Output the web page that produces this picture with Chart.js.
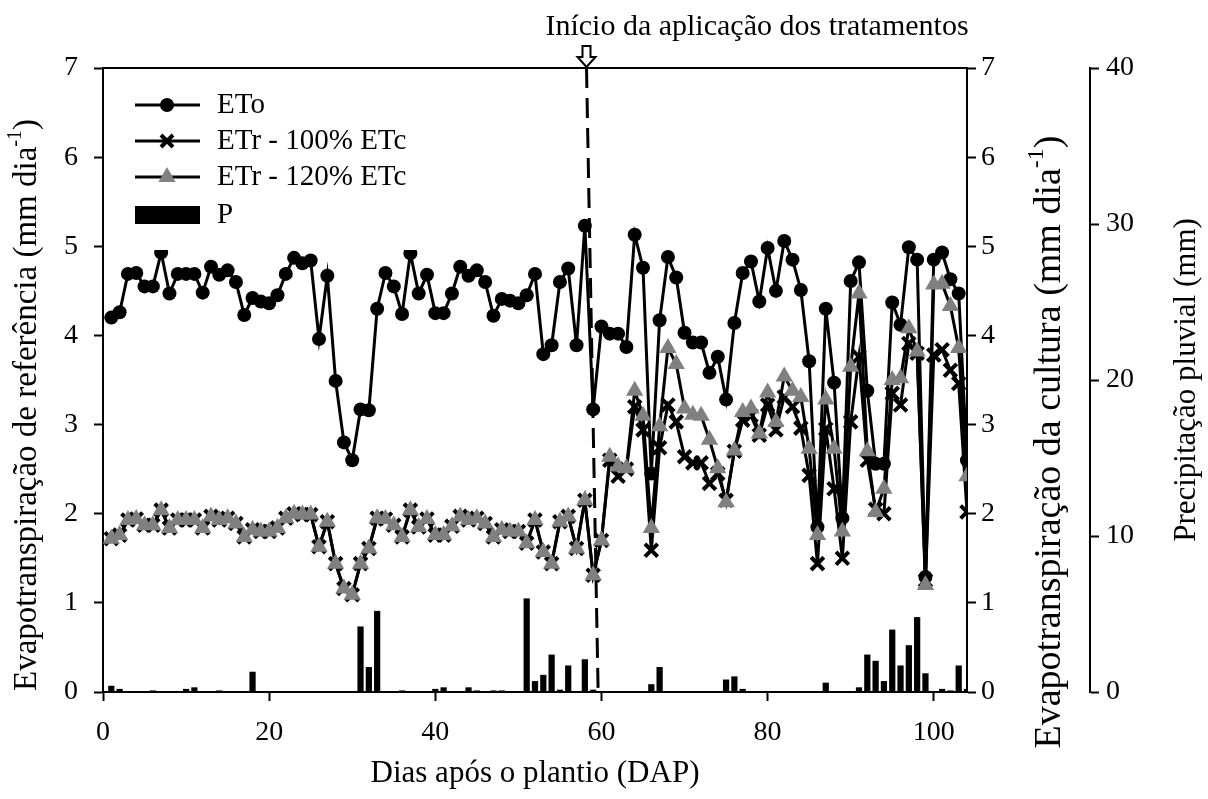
<!DOCTYPE html>
<html>
<head>
<meta charset="utf-8">
<script src="https://cdn.jsdelivr.net/npm/chart.js@4"></script>
<style>
body{margin:0;background:#fff;}
canvas{display:block;}
</style>
</head>
<body>
<canvas id="grafico" width="1208" height="799"></canvas>
<script>

// ================= DADOS =================

// dias após o plantio
let dias = [];
for(let d = 1; d <= 104; d++) dias.push(d);

// ETo (mm dia-1)
let eto = [
4.20,4.26,4.69,4.70,4.55,4.55,4.93,4.47,4.69,4.69,
4.69,4.48,4.77,4.68,4.73,4.60,4.23,4.42,4.38,4.36,
4.45,4.69,4.87,4.81,4.84,3.96,4.67,3.49,2.80,2.60,
3.17,3.16,4.30,4.70,4.55,4.24,4.92,4.47,4.68,4.25,
4.25,4.47,4.77,4.67,4.73,4.60,4.22,4.41,4.39,4.36,
4.45,4.69,3.79,3.89,4.60,4.75,3.89,5.23,3.17,4.10,
4.02,4.02,3.87,5.13,4.76,2.45,4.17,4.88,4.65,4.03,
3.92,3.92,3.58,3.76,3.28,4.14,4.70,4.83,4.38,4.98,
4.50,5.06,4.85,4.51,3.71,1.85,4.30,3.47,1.95,4.61,
4.82,3.38,2.56,2.56,4.37,4.12,4.99,4.85,1.29,4.85,
4.93,4.63,4.47,2.60
];

// ETr - 100% ETc
let etr100 = [
1.72,1.76,1.93,1.94,1.87,1.87,2.04,1.84,1.93,1.93,
1.93,1.84,1.97,1.93,1.95,1.89,1.74,1.82,1.80,1.80,
1.84,1.95,2.00,1.99,1.99,1.63,1.91,1.44,1.16,1.09,
1.44,1.61,1.95,1.94,1.87,1.74,2.04,1.85,1.94,1.76,
1.76,1.86,1.97,1.93,1.95,1.89,1.74,1.82,1.80,1.80,
1.67,1.93,1.57,1.44,1.91,1.97,1.61,2.15,1.31,1.70,
2.60,2.42,2.50,3.20,2.94,1.59,2.74,3.22,3.03,2.64,
2.57,2.57,2.34,2.45,2.15,2.70,3.05,3.10,2.88,3.22,
2.94,3.31,3.20,2.96,2.43,1.44,2.95,2.28,1.50,3.03,
3.76,2.60,2.05,2.00,3.35,3.22,3.91,3.80,1.25,3.78,
3.84,3.61,3.46,2.02
];

// ETr - 120% ETc
let etr120 = [
1.72,1.76,1.93,1.94,1.87,1.87,2.04,1.84,1.93,1.93,
1.93,1.84,1.97,1.93,1.95,1.89,1.74,1.82,1.80,1.80,
1.84,1.95,2.00,1.99,1.99,1.63,1.91,1.44,1.16,1.09,
1.44,1.61,1.95,1.94,1.87,1.74,2.04,1.85,1.94,1.76,
1.76,1.86,1.97,1.93,1.95,1.89,1.74,1.82,1.80,1.80,
1.67,1.93,1.57,1.44,1.91,1.97,1.61,2.15,1.31,1.70,
2.64,2.53,2.51,3.38,3.10,1.84,2.98,3.86,3.68,3.18,
3.11,3.10,2.83,2.51,2.13,2.71,3.14,3.18,2.90,3.36,
3.03,3.54,3.38,3.31,2.73,1.76,3.28,2.73,1.80,3.65,
4.47,2.70,2.02,2.28,3.50,3.52,4.08,3.82,1.20,4.57,
4.58,4.33,3.86,2.42
];

// precipitação pluvial (mm)
let chuva = [
0.4,0.2,0,0,0,0.1,0,0,0,0.2,
0.3,0,0,0.1,0,0,0,1.3,0,0,
0,0,0,0,0,0,0,0,0,0,
4.2,1.6,5.2,0,0,0.1,0,0,0,0.2,
0.3,0,0,0.3,0.1,0,0.1,0.1,0,0,
6.0,0.7,1.1,2.4,0.15,1.7,0,2.1,0.15,0,
0,0,0,0,0,0.5,1.6,0,0,0,
0,0,0,0,0.8,1.0,0.2,0,0,0,
0,0,0,0,0,0,0.6,0,0,0,
0.3,2.4,2.0,0.7,4.0,1.7,3.0,4.8,1.2,0,
0.2,0.1,1.7,0.2
];

// linha do início dos tratamentos (topo -> base)
let inicioX = [58.2, 59.6];
let inicioY = [7, 0];

let FONTE = '"Liberation Serif", "Times New Roman", serif';


// ================= FUNÇÕES =================

function pares(xs, ys){
return xs.map((x, i) => ({x: x, y: ys[i]}));
}

// texto vertical (de baixo para cima) com sobrescrito
function textoVertical(ctx, x, y, tam, partes){
ctx.save();
ctx.translate(x, y);
ctx.rotate(-Math.PI/2);
let fonte = p => (p[1] ? Math.round(tam*0.62) : tam) + 'px ' + FONTE;
let total = 0;
partes.forEach(p => {
ctx.font = fonte(p);
total += ctx.measureText(p[0]).width;
});
let cx = -total/2;
ctx.textAlign = 'left';
ctx.textBaseline = 'middle';
ctx.fillStyle = '#000';
partes.forEach(p => {
ctx.font = fonte(p);
ctx.fillText(p[0], cx, p[1] ? -tam*0.35 : 0);
cx += ctx.measureText(p[0]).width;
});
ctx.restore();
}

// desenha títulos, legenda, seta, moldura
let extras = {
id: 'extras',
afterDatasetsDraw(chart){
let ctx = chart.ctx;
let a = chart.chartArea;

// moldura superior
ctx.save();
ctx.strokeStyle = '#000';
ctx.lineWidth = 2;
ctx.beginPath();
ctx.moveTo(a.left, a.top);
ctx.lineTo(a.right, a.top);
ctx.stroke();

// legenda (fundo branco)
ctx.fillStyle = '#fff';
ctx.fillRect(a.left + 2, a.top + 2, 312, 180);

let lx1 = 135, lx2 = 200, lm = 167;
let linhas = [105, 141, 177];
ctx.lineWidth = 3;
linhas.forEach(yy => {
ctx.beginPath();
ctx.moveTo(lx1, yy);
ctx.lineTo(lx2, yy);
ctx.stroke();
});
// circulo
ctx.fillStyle = '#000';
ctx.beginPath();
ctx.arc(lm, linhas[0], 7, 0, Math.PI*2);
ctx.fill();
// x
ctx.lineWidth = 4;
ctx.beginPath();
ctx.moveTo(lm-6, linhas[1]-6); ctx.lineTo(lm+6, linhas[1]+6);
ctx.moveTo(lm+6, linhas[1]-6); ctx.lineTo(lm-6, linhas[1]+6);
ctx.stroke();
// triangulo
let r = 10;
ctx.fillStyle = '#808080';
ctx.beginPath();
ctx.moveTo(lm, linhas[2]-r);
ctx.lineTo(lm + r*0.866, linhas[2]+r/2);
ctx.lineTo(lm - r*0.866, linhas[2]+r/2);
ctx.closePath();
ctx.fill();
// barra
ctx.fillStyle = '#000';
ctx.fillRect(lx1, 206, lx2-lx1, 18);

ctx.font = '29px ' + FONTE;
ctx.textAlign = 'left';
ctx.textBaseline = 'middle';
ctx.fillText('ETo', 217, linhas[0]);
ctx.fillText('ETr - 100% ETc', 217, linhas[1]);
ctx.fillText('ETr - 120% ETc', 217, linhas[2]);
ctx.fillText('P', 217, 215);

// seta e texto do início dos tratamentos
let sx = chart.scales.x.getPixelForValue(inicioX[0]);
ctx.fillStyle = '#fff';
ctx.strokeStyle = '#000';
ctx.lineWidth = 2;
ctx.beginPath();
ctx.moveTo(sx-4, 46);
ctx.lineTo(sx+4, 46);
ctx.lineTo(sx+4, 57);
ctx.lineTo(sx+9, 57);
ctx.lineTo(sx, a.top - 1);
ctx.lineTo(sx-9, 57);
ctx.lineTo(sx-4, 57);
ctx.closePath();
ctx.fill();
ctx.stroke();

ctx.fillStyle = '#000';
ctx.textAlign = 'center';
ctx.textBaseline = 'middle';
ctx.font = '30px ' + FONTE;
ctx.fillText('Início da aplicação dos tratamentos', 757, 27);

// título do eixo x
ctx.font = '31px ' + FONTE;
ctx.fillText('Dias após o plantio (DAP)', (a.left + a.right)/2, 774);
ctx.restore();

// títulos dos eixos y
textoVertical(ctx, 27, 405, 33, [['Evapotranspiração de referência (mm dia'], ['-1', true], [')']]);
textoVertical(ctx, 1050, 442, 38, [['Evapotranspiração da cultura (mm dia'], ['-1', true], [')']]);
textoVertical(ctx, 1187, 380, 31, [['Precipitação pluvial (mm)']]);
}
};

function eixo(pos, min, max, passo, largura, pad){
return {
position: pos,
min: min,
max: max,
ticks: {stepSize: passo, color: '#000', padding: pad, font: {family: FONTE, size: 28}},
grid: {drawOnChartArea: false, drawTicks: true, tickLength: 9, tickColor: '#000', tickWidth: 2},
border: {color: '#000', width: 2},
afterFit: s => { s.width = largura; }
};
}


// ================= GRÁFICO =================

let ctx = document.getElementById('grafico').getContext('2d');

let grafico = new Chart(ctx, {
type: 'line',
data: {
datasets: [
{
label: 'ETr - 120% ETc',
data: pares(dias, etr120),
yAxisID: 'y',
borderColor: '#000',
borderWidth: 3,
pointStyle: 'triangle',
pointRadius: 10,
pointBackgroundColor: '#808080',
pointBorderColor: '#808080',
pointBorderWidth: 0,
order: 0
},
{
label: 'ETr - 100% ETc',
data: pares(dias, etr100),
yAxisID: 'y',
borderColor: '#000',
borderWidth: 3,
pointStyle: 'crossRot',
pointRadius: 9,
pointBorderColor: '#000',
pointBorderWidth: 4,
order: 1
},
{
label: 'ETo',
data: pares(dias, eto),
yAxisID: 'y',
borderColor: '#000',
borderWidth: 3,
pointStyle: 'circle',
pointRadius: 7,
pointBackgroundColor: '#000',
pointBorderWidth: 0,
order: 2
},
{
type: 'bar',
label: 'P',
data: pares(dias, chuva),
yAxisID: 'yP',
backgroundColor: '#000',
barPercentage: 0.75,
categoryPercentage: 1,
order: 3
},
{
label: 'inicio',
data: pares(inicioX, inicioY),
yAxisID: 'y',
borderColor: '#000',
borderWidth: 3,
borderDash: [20, 10],
pointRadius: 0,
order: 4
}
]
},
options: {
responsive: false,
animation: false,
devicePixelRatio: 1,
layout: {padding: {top: 68, left: 0, right: 0, bottom: 0}},
plugins: {legend: {display: false}, tooltip: {enabled: false}},
scales: {
x: {
type: 'linear',
min: 0,
max: 104,
offset: false,
ticks: {stepSize: 20, includeBounds: false, color: '#000', padding: 15, maxRotation: 0, font: {family: FONTE, size: 28}},
grid: {offset: false, drawOnChartArea: false, drawTicks: true, tickLength: 9, tickColor: '#000', tickWidth: 2},
border: {color: '#000', width: 2},
afterFit: s => { s.height = 107; }
},
y: eixo('left', 0, 7, 1, 103, 16),
y2: eixo('right', 0, 7, 1, 123, 5),
yP: eixo('right', 0, 40, 10, 118, 7)
}
},
plugins: [extras]
});

</script>
</body>
</html>
